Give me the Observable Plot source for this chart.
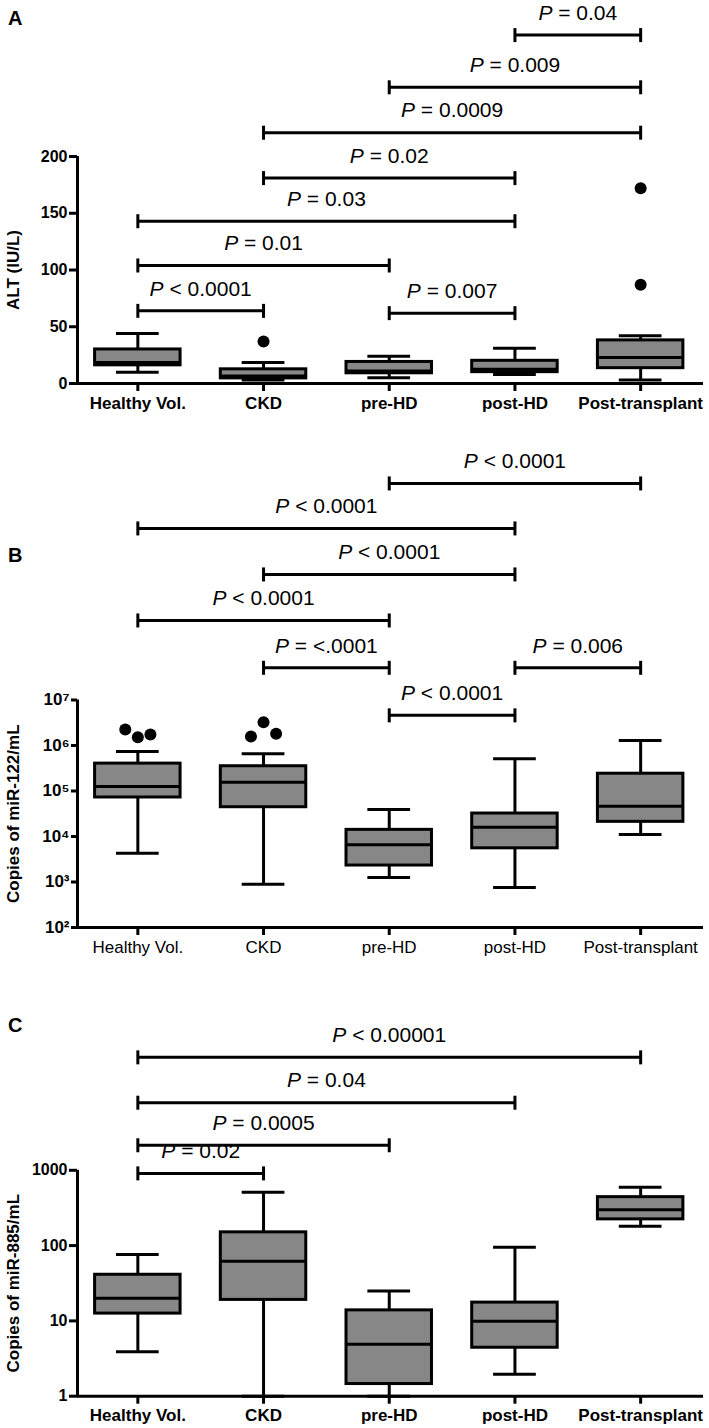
<!DOCTYPE html>
<html><head><meta charset="utf-8">
<script src="https://cdn.jsdelivr.net/npm/d3@7"></script>
<script src="https://cdn.jsdelivr.net/npm/@observablehq/plot@0.6"></script>
<style>
body{margin:0;background:#fff;}
#wrap{position:relative;width:709px;height:1428px;font-family:"Liberation Sans",Arial,sans-serif;overflow:hidden;}
.panel{position:absolute;left:0;}
.plabel{position:absolute;font-weight:bold;font-size:20px;line-height:20px;}
</style></head><body><div id="wrap"></div>
<script>
// ---------- shared categories ----------
const categories = ["Healthy Vol.", "CKD", "pre-HD", "post-HD", "Post-transplant"];

// ---------- Panel A: ALT (IU/L) ----------
const altLow    = [10, 3, 5, 8, 3];
const altQ1     = [16, 4.5, 9, 10, 13.5];
const altMedian = [18.5, 6.5, 11, 12.5, 23];
const altQ3     = [30, 12.5, 19, 20, 38];
const altHigh   = [44, 18.5, 24, 31, 42];
const altOutliers = [{group: 1, value: 37}, {group: 4, value: 172}, {group: 4, value: 87}];
const altBrackets = [
  {from: 3, to: 4, label: "P = 0.04", y: 307},
  {from: 2, to: 4, label: "P = 0.009", y: 261},
  {from: 1, to: 4, label: "P = 0.0009", y: 221},
  {from: 1, to: 3, label: "P = 0.02", y: 181},
  {from: 0, to: 3, label: "P = 0.03", y: 143},
  {from: 0, to: 2, label: "P = 0.01", y: 104},
  {from: 0, to: 1, label: "P < 0.0001", y: 64},
  {from: 2, to: 3, label: "P = 0.007", y: 62}
];
const altTicks = [0, 50, 100, 150, 200];

// ---------- Panel B: copies of miR-122/mL ----------
const mir122Low    = [4300, 890, 1260, 760, 11000];
const mir122Q1     = [72000, 44000, 2300, 5500, 21000];
const mir122Median = [126000, 155000, 6600, 16000, 46000];
const mir122Q3     = [400000, 350000, 14000, 32000, 240000];
const mir122High   = [740000, 660000, 39000, 510000, 1290000];
const mir122Outliers = [
  {group: 0, value: 2240000}, {group: 0, value: 1510000}, {group: 0, value: 1740000},
  {group: 1, value: 1580000}, {group: 1, value: 3240000}, {group: 1, value: 1820000}
];
const mir122Brackets = [
  {from: 2, to: 4, label: "P < 0.0001", y: 5.75e11},
  {from: 0, to: 3, label: "P < 0.0001", y: 5.9e10},
  {from: 1, to: 3, label: "P < 0.0001", y: 5.75e9},
  {from: 0, to: 2, label: "P < 0.0001", y: 5.6e8},
  {from: 1, to: 2, label: "P = <.0001", y: 5.1e7},
  {from: 3, to: 4, label: "P = 0.006", y: 5.1e7},
  {from: 2, to: 3, label: "P < 0.0001", y: 4.6e6}
];
const mir122Ticks = [1e2, 1e3, 1e4, 1e5, 1e6, 1e7];

// ---------- Panel C: copies of miR-885/mL ----------
const mir885Low    = [3.9, 1, 1, 1.95, 181];
const mir885Q1     = [12.5, 19, 1.45, 4.4, 223];
const mir885Median = [20, 62, 4.9, 9.9, 300];
const mir885Q3     = [41, 150, 13.8, 17.5, 440];
const mir885High   = [76, 510, 25, 95, 596];
const mir885Outliers = [];
const mir885Brackets = [
  {from: 0, to: 4, label: "P < 0.00001", y: 31600},
  {from: 0, to: 3, label: "P = 0.04", y: 7900},
  {from: 0, to: 2, label: "P = 0.0005", y: 2150},
  {from: 0, to: 1, label: "P = 0.02", y: 910}
];
const mir885Ticks = [1, 10, 100, 1000];

// ---------- helpers ----------
const SUP = "⁰¹²³⁴⁵⁶⁷⁸⁹";
const pow10 = d => "10" + String(Math.round(Math.log10(d))).split("").map(c => SUP[+c]).join("");
const FONT = "Liberation Sans, Arial, sans-serif";
const BOX_FILL = "#878787";
const HALF_BOX = 0.34, HALF_CAP = 0.17;
const X_DOMAIN = [-0.48, 4.5];
const vbar = {draw(ctx, size) { const r = Math.sqrt(size / Math.PI); ctx.moveTo(0, -r); ctx.lineTo(0, r); }};

function statsTable(low, q1, med, q3, high) {
  return categories.map((c, i) => ({i, low: low[i], q1: q1[i], med: med[i], q3: q3[i], high: high[i]}));
}

function makePanel(o) {
  const stats = statsTable(o.low, o.q1, o.med, o.q3, o.high);
  // spread overlapping outliers of the same group
  const byGroup = d3.group(o.outliers, d => d.group);
  const outl = [];
  for (const [g, arr] of byGroup) {
    arr.forEach((d, k) => outl.push({x: g + (arr.length >= 3 ? (k - (arr.length - 1) / 2) * o.spread : 0), y: d.value}));
  }
  const ends = o.brackets.flatMap(b => [{x: b.from, y: b.y}, {x: b.to, y: b.y}]);
  const axisMin = o.ticks[0], axisMax = o.ticks[o.ticks.length - 1];
  const titleY = o.yType === "log" ? Math.sqrt(axisMin * axisMax) : (axisMin + axisMax) / 2;
  const plot = Plot.plot({
    width: 709,
    height: o.height,
    marginLeft: 77,
    marginRight: 6,
    marginTop: o.marginTop,
    marginBottom: o.marginBottom,
    style: {fontFamily: FONT, fontSize: "16px", overflow: "visible", background: "transparent", color: "#000"},
    x: {type: "linear", domain: X_DOMAIN},
    y: {type: o.yType, domain: o.yDomain},
    marks: [
      // axes lines
      Plot.ruleY([axisMin], {stroke: "#000", strokeWidth: 3}),
      Plot.ruleX([X_DOMAIN[0]], {y1: axisMin, y2: axisMax, stroke: "#000", strokeWidth: 3}),
      Plot.axisY(o.ticks, {tickSize: o.yTickSize, tickPadding: 2, strokeWidth: 3, fontSize: o.yFontSize, fontWeight: "bold", fontFamily: FONT, tickFormat: o.tickFormat, label: null}),
      Plot.axisX([0, 1, 2, 3, 4], {tickSize: 8, tickPadding: 5, strokeWidth: 3, fontSize: 17, fontWeight: o.xWeight, fontFamily: FONT, tickFormat: i => categories[i], label: null}),
      // whiskers
      Plot.ruleX(stats, {x: "i", y1: "q3", y2: "high", stroke: "#000", strokeWidth: 3}),
      Plot.ruleX(stats, {x: "i", y1: "low", y2: "q1", stroke: "#000", strokeWidth: 3}),
      Plot.ruleY(stats, {y: "high", x1: d => d.i - HALF_CAP, x2: d => d.i + HALF_CAP, stroke: "#000", strokeWidth: 3}),
      Plot.ruleY(stats, {y: "low", x1: d => d.i - HALF_CAP, x2: d => d.i + HALF_CAP, stroke: "#000", strokeWidth: 3}),
      // boxes
      Plot.rect(stats, {x1: d => d.i - HALF_BOX, x2: d => d.i + HALF_BOX, y1: "q1", y2: "q3", fill: BOX_FILL, stroke: "#000", strokeWidth: 3}),
      Plot.ruleY(stats, {y: "med", x1: d => d.i - HALF_BOX, x2: d => d.i + HALF_BOX, stroke: "#000", strokeWidth: 3}),
      // outliers
      Plot.dot(outl, {x: "x", y: "y", r: 6, fill: "#000", stroke: "none"}),
      // significance brackets
      Plot.ruleY(o.brackets, {y: "y", x1: "from", x2: "to", stroke: "#000", strokeWidth: 3}),
      Plot.dot(ends, {x: "x", y: "y", r: 7, symbol: vbar, fill: "none", stroke: "#000", strokeWidth: 3}),
      Plot.text(o.brackets, {x: d => (d.from + d.to) / 2, y: "y", text: "label", dy: -22, fontSize: 21, fontFamily: FONT, fill: "#000"}),
      // y-axis title
      Plot.text([{y: titleY, t: o.yTitle}], {x: () => X_DOMAIN[0], y: "y", text: "t", rotate: -90, dx: -64, fontSize: 17, fontWeight: "bold", fontFamily: FONT, fill: "#000"})
    ]
  });
  // italic P in significance labels
  const ns = "http://www.w3.org/2000/svg";
  plot.querySelectorAll("text").forEach(t => {
    if (t.children.length === 0 && /^P [=<]/.test(t.textContent)) {
      const rest = t.textContent.slice(1);
      t.textContent = "";
      const a = document.createElementNS(ns, "tspan");
      a.setAttribute("font-style", "italic");
      a.textContent = "P";
      const b = document.createElementNS(ns, "tspan");
      b.textContent = rest;
      t.appendChild(a); t.appendChild(b);
    }
  });
  const holder = document.createElement("div");
  holder.className = "panel";
  holder.style.top = o.top + "px";
  holder.appendChild(plot);
  const lab = document.createElement("div");
  lab.className = "plabel";
  lab.textContent = o.panelLabel;
  lab.style.left = "8px";
  lab.style.top = o.labelTop + "px";
  const wrap = document.getElementById("wrap");
  wrap.appendChild(holder);
  wrap.appendChild(lab);
}

makePanel({
  panelLabel: "A", labelTop: 8, top: 0, height: 420, marginTop: 8.5, marginBottom: 37,
  yType: "linear", yDomain: [0, 330], ticks: altTicks, tickFormat: d => String(d), yTickSize: 8, yFontSize: 16,
  low: altLow, q1: altQ1, med: altMedian, q3: altQ3, high: altHigh,
  outliers: altOutliers, spread: 0, brackets: altBrackets, yTitle: "ALT (IU/L)", xWeight: "bold"
});
makePanel({
  panelLabel: "B", labelTop: 545, top: 420, height: 545, marginTop: 52, marginBottom: 38,
  yType: "log", yDomain: [1e2, 1e12], ticks: mir122Ticks, tickFormat: pow10, yTickSize: 6, yFontSize: 17,
  low: mir122Low, q1: mir122Q1, med: mir122Median, q3: mir122Q3, high: mir122High,
  outliers: mir122Outliers, spread: 0.1, brackets: mir122Brackets, yTitle: "Copies of miR-122/mL", xWeight: "normal"
});
makePanel({
  panelLabel: "C", labelTop: 1015, top: 965, height: 463, marginTop: 54.2, marginBottom: 32.3,
  yType: "log", yDomain: [1, 1e5], ticks: mir885Ticks, tickFormat: d => String(d), yTickSize: 8, yFontSize: 16,
  low: mir885Low, q1: mir885Q1, med: mir885Median, q3: mir885Q3, high: mir885High,
  outliers: mir885Outliers, spread: 0, brackets: mir885Brackets, yTitle: "Copies of miR-885/mL", xWeight: "bold"
});
</script></body></html>
